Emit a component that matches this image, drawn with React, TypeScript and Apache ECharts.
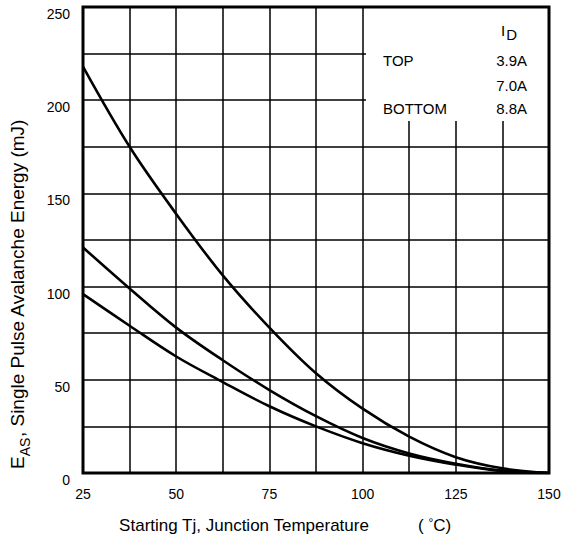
import React, { useEffect, useRef } from "react";
import * as echarts from "echarts";

const temps = [25, 37.5, 50, 62.5, 75, 87.5, 100, 112.5, 125, 137.5, 150];
const eas39A = [218, 175, 139, 106, 78, 53.5, 34.5, 19.5, 8.5, 2.5, 0];
const eas70A = [121, 99, 78, 60.5, 44.5, 30.5, 18.8, 10.5, 5, 1.3, 0];
const eas88A = [96, 79, 62.5, 48.8, 35.8, 25, 16, 9.3, 4.5, 1.0, 0];
const legendLabels = ["TOP", "", "BOTTOM"];
const legendCurrents = ["3.9A", "7.0A", "8.8A"];

const FONT = "'Liberation Sans', Arial, sans-serif";
const G = { left: 83, top: 7, width: 466, height: 466 };

export default function App() {
  const ref = useRef<HTMLDivElement>(null);
  useEffect(() => {
    if (!ref.current) return;
    const chart = echarts.init(ref.current, undefined, { renderer: "svg" });
    const mk = (vals: number[]) => temps.map((t, i) => [t, vals[i]]);
    const line = (name: string, vals: number[]) => ({
      name,
      type: "line",
      data: mk(vals),
      smooth: 0.35,
      symbol: "none",
      lineStyle: { color: "#000", width: 2.6 },
      z: 3,
    });
    const gridLine = { color: "#000", width: 1.5 };
    const legendY = [60, 85, 108];
    const graphic: any[] = [
      {
        type: "rect",
        z: 50,
        shape: { x: 366, y: G.top, width: G.left + G.width - 366, height: 121 - G.top },
        style: { fill: "#fff" },
      },
      {
        type: "rect",
        z: 60,
        shape: { x: G.left, y: G.top, width: G.width, height: G.height },
        style: { fill: "none", stroke: "#000", lineWidth: 3 },
      },
      {
        type: "text",
        z: 61,
        x: 501,
        y: 30,
        style: {
          text: "{m|I}{s|D}",
          fill: "#000",
          rich: {
            m: { fontSize: 15, fontFamily: FONT, lineHeight: 24, fill: "#000" },
            s: { fontSize: 15, fontFamily: FONT, lineHeight: 13, verticalAlign: "bottom", fill: "#000", padding: [0, 0, 0, 1] },
          },
          align: "left",
          verticalAlign: "middle",
        },
      },
      ...legendLabels.map((t, i) => ({
        type: "text",
        z: 61,
        x: 383,
        y: legendY[i],
        style: { text: t, fontSize: 15, fontFamily: FONT, fill: "#000", align: "left", verticalAlign: "middle" },
      })),
      ...legendCurrents.map((t, i) => ({
        type: "text",
        z: 61,
        x: 527,
        y: legendY[i],
        style: { text: t, fontSize: 15, fontFamily: FONT, fill: "#000", align: "right", verticalAlign: "middle" },
      })),
      {
        type: "text",
        z: 61,
        x: 244,
        y: 525,
        style: { text: "Starting Tj, Junction Temperature", fontSize: 17, fontFamily: FONT, fill: "#000", align: "center", verticalAlign: "middle" },
      },
      {
        type: "text",
        z: 61,
        x: 418,
        y: 525,
        style: {
          text: "( {u|°}C)",
          fontSize: 17,
          fontFamily: FONT,
          fill: "#000",
          rich: {
            u: { fontSize: 12, fontFamily: FONT, fill: "#000", verticalAlign: "top", lineHeight: 12 },
          },
          align: "left",
          verticalAlign: "middle",
        },
      },
      {
        type: "text",
        z: 61,
        x: 17,
        y: 294,
        rotation: Math.PI / 2,
        style: {
          text: "{m|E}{s|AS}{m|, Single Pulse Avalanche Energy (mJ)}",
          fill: "#000",
          rich: {
            m: { fontSize: 19, fontFamily: FONT, lineHeight: 30, fill: "#000" },
            s: { fontSize: 14, fontFamily: FONT, lineHeight: 13, verticalAlign: "bottom", fill: "#000" },
          },
          align: "center",
          verticalAlign: "middle",
        },
      },
    ];
    chart.setOption({
      animation: false,
      backgroundColor: "#fff",
      grid: { left: G.left, top: G.top, width: G.width, height: G.height, show: false },
      xAxis: {
        type: "value",
        min: 25,
        max: 150,
        interval: 25,
        axisLine: { show: false },
        axisTick: { show: false },
        axisLabel: { color: "#000", fontSize: 14, fontFamily: FONT, margin: 14, showMinLabel: true, showMaxLabel: true },
        splitLine: { show: true, lineStyle: gridLine },
        minorTick: { show: false, splitNumber: 2 },
        minorSplitLine: { show: true, lineStyle: gridLine },
      },
      yAxis: {
        type: "value",
        min: 0,
        max: 250,
        interval: 50,
        axisLine: { show: false },
        axisTick: { show: false },
        axisLabel: {
          color: "#000",
          fontSize: 14,
          fontFamily: FONT,
          margin: 13,
          verticalAlign: "top",
          lineHeight: 14,
          showMinLabel: true,
          showMaxLabel: true,
        },
        splitLine: { show: true, lineStyle: gridLine },
        minorTick: { show: false, splitNumber: 2 },
        minorSplitLine: { show: true, lineStyle: gridLine },
      },
      series: [line("3.9A", eas39A), line("7.0A", eas70A), line("8.8A", eas88A)],
      graphic,
    });
    return () => chart.dispose();
  }, []);
  return <div ref={ref} style={{ width: 567, height: 540, position: "absolute", left: 0, top: 0 }} />;
}
